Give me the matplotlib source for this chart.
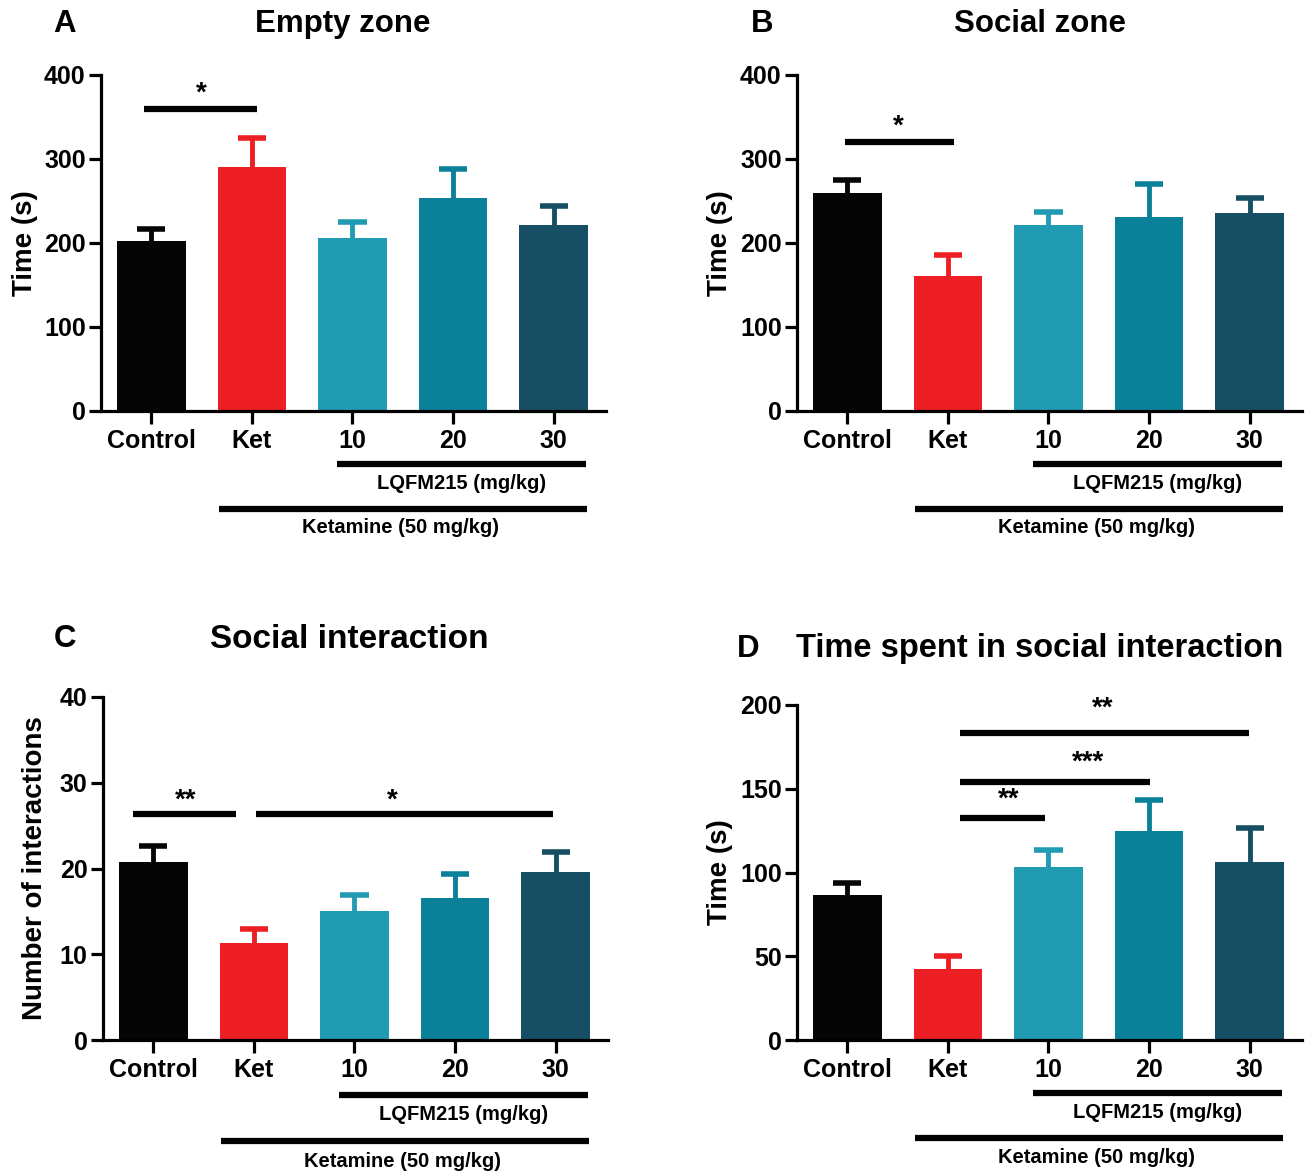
import matplotlib
matplotlib.use("Agg")
import matplotlib.pyplot as plt

plt.rcParams['font.family'] = 'Liberation Sans'
plt.rcParams['font.weight'] = 'bold'
plt.rcParams['axes.labelweight'] = 'bold'

groups = ["Control", "Ket", "10", "20", "30"]
colors = ["#050505", "#ed1f24", "#219bb2", "#0b8199", "#164f63"]

# panel values (mean, upper error end)
empty_mean = [202, 290, 206, 254, 221]
empty_top = [217, 325, 225, 288, 244]
social_mean = [260, 161, 221, 231, 236]
social_top = [275, 186, 237, 270, 254]
inter_mean = [20.7, 11.3, 15.0, 16.6, 19.6]
inter_top = [22.6, 13.0, 16.9, 19.4, 21.9]
tsi_mean = [86.5, 42.5, 103.3, 125.0, 106.5]
tsi_top = [94, 50, 113.6, 143.5, 126.5]

# significance bars: (x start, x end, y, stars, star x)
sig_a = [(-0.07, 1.05, 359, "*", 0.5)]
sig_b = [(-0.02, 1.06, 320, "*", 0.51)]
sig_c = [(-0.2, 0.82, 26.4, "**", 0.32), (1.02, 3.97, 26.4, "*", 2.38)]
sig_d = [(1.12, 1.97, 132.5, "**", 1.6), (1.12, 3.01, 154.3, "***", 2.39),
         (1.12, 3.99, 183.0, "**", 2.54)]

W, H = 1309, 1173
fig = plt.figure(figsize=(W / 100, H / 100), dpi=100)


def px_axes(left, top, right, bottom):
    return fig.add_axes([left / W, 1 - bottom / H, (right - left) / W, (bottom - top) / H])


def draw_panel(ax, means, tops, ymax, ystep, ylabel, sigs, star_pad, ylab_x, lines_y):
    x = list(range(len(groups)))
    # one-sided error bars (upper only)
    ax.vlines(x, means, tops, colors=colors, lw=3.5, zorder=1)
    ax.hlines(tops, [i - 0.14 for i in x], [i + 0.14 for i in x], colors=colors, lw=4, zorder=1)
    ax.bar(x, means, width=0.68, color=colors, zorder=2)
    ax.set_xlim(-0.5, 4.52)
    ax.set_ylim(0, ymax)
    ax.set_yticks(range(0, ymax + 1, ystep))
    ax.set_xticks(x)
    ax.set_xticklabels(groups)
    for s in ['top', 'right']:
        ax.spines[s].set_visible(False)
    for s in ['left', 'bottom']:
        ax.spines[s].set_linewidth(2.3)
    ax.tick_params(axis='both', width=2.3, length=9, labelsize=18)
    ax.tick_params(axis='y', pad=2)
    ax.tick_params(axis='x', pad=4)
    ax.set_ylabel(ylabel, fontsize=20)
    ax.yaxis.set_label_coords(ylab_x, 0.5)

    for (x0, x1, y, stars, sx), pad in zip(sigs, star_pad):
        ax.plot([x0, x1], [y, y], color='black', lw=4.5, solid_capstyle='butt', clip_on=False)
        ax.annotate(stars, (sx, y), xytext=(0, pad), textcoords='offset points',
                    ha='center', va='baseline', fontsize=20)

    tr = ax.get_xaxis_transform()
    l1, t1, l2, t2 = lines_y
    ax.plot([1.85, 4.32], [l1, l1], color='black', lw=4.5, solid_capstyle='butt',
            transform=tr, clip_on=False)
    ax.text(3.08, t1, "LQFM215 (mg/kg)", transform=tr, ha='center', va='center', fontsize=14.5)
    ax.plot([0.67, 4.33], [l2, l2], color='black', lw=4.5, solid_capstyle='butt',
            transform=tr, clip_on=False)
    ax.text(2.48, t2, "Ketamine (50 mg/kg)", transform=tr, ha='center', va='center', fontsize=14.5)


ax_a = px_axes(101, 75, 606, 411)
draw_panel(ax_a, empty_mean, empty_top, 400, 100, "Time (s)", sig_a, [6.5], -0.125,
           (-0.158, -0.217, -0.292, -0.348))
ax_b = px_axes(797, 75, 1302, 411)
draw_panel(ax_b, social_mean, social_top, 400, 100, "Time (s)", sig_b, [6.5], -0.127,
           (-0.158, -0.217, -0.292, -0.348))
ax_c = px_axes(103, 697, 608, 1040)
draw_panel(ax_c, inter_mean, inter_top, 40, 10, "Number of interactions", sig_c, [4.5, 4.5], -0.109,
           (-0.160, -0.216, -0.294, -0.353))
ax_d = px_axes(797, 705, 1302, 1040)
draw_panel(ax_d, tsi_mean, tsi_top, 200, 50, "Time (s)", sig_d, [8.5, 8.5, 13], -0.127,
           (-0.158, -0.215, -0.293, -0.352))


def ftext(x, y, s, size=22.5):
    fig.text(x / W, 1 - y / H, s, ha='center', va='center', fontsize=size)


ftext(65, 24, "A")
ftext(343, 24, "Empty zone")
ftext(762, 24, "B")
ftext(1040, 24, "Social zone")
ftext(65, 639, "C")
ftext(349, 639, "Social interaction", 24)
ftext(748, 649, "D")
ftext(1040, 649, "Time spent in social interaction", 23.5)

fig.savefig("out.png", dpi=100, facecolor='white')
